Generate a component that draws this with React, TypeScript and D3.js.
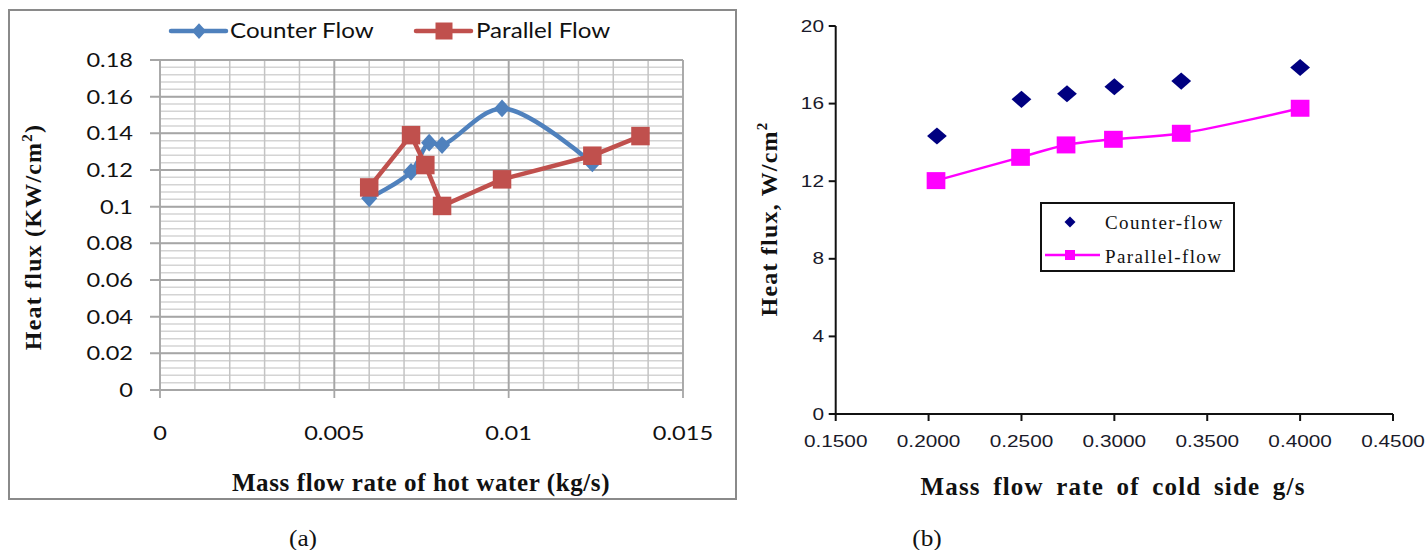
import React from "react";
import * as d3 from "d3";

// ---------- Panel (a) data ----------
const A_COUNTER_X = [0.006, 0.0072, 0.00772, 0.00809, 0.00981, 0.0124];
const A_COUNTER_Y = [0.1046, 0.119, 0.1349, 0.1336, 0.1536, 0.1236];
const A_PARALLEL_X = [0.006, 0.0072, 0.00761, 0.00809, 0.00981, 0.0124, 0.01378];
const A_PARALLEL_Y = [0.1105, 0.139, 0.1227, 0.1004, 0.1149, 0.1278, 0.1385];
const A_Y_TICKS = [0, 0.02, 0.04, 0.06, 0.08, 0.1, 0.12, 0.14, 0.16, 0.18];
const A_X_TICKS = [0, 0.005, 0.01, 0.015];
const A_SERIES = ["Counter Flow", "Parallel Flow"];

// ---------- Panel (b) data ----------
const B_COUNTER_X = [0.2045, 0.25, 0.2745, 0.3, 0.336, 0.4];
const B_COUNTER_Y = [14.33, 16.22, 16.51, 16.87, 17.16, 17.86];
const B_PARALLEL_X = [0.204, 0.2495, 0.274, 0.2995, 0.336, 0.4];
const B_PARALLEL_Y = [12.03, 13.23, 13.87, 14.16, 14.47, 15.76];
const B_Y_TICKS = [0, 4, 8, 12, 16, 20];
const B_X_TICKS = [0.15, 0.2, 0.25, 0.3, 0.35, 0.4, 0.45];
const B_SERIES = ["Counter-flow", "Parallel-flow"];

const BLUE = "#4F81BD";
const RED = "#C0504D";
const NAVY = "#000080";
const MAGENTA = "#FF00FF";

const SANS_A = "Lato, 'Open Sans', sans-serif";
const SANS_B = "'Liberation Sans', Arial, sans-serif";
const SERIF = "'Liberation Serif', 'Times New Roman', serif";

const diamondType = {
  draw(ctx: any, size: number) {
    const r = Math.sqrt(size / 2);
    ctx.moveTo(0, -r);
    ctx.lineTo(r, 0);
    ctx.lineTo(0, r);
    ctx.lineTo(-r, 0);
    ctx.closePath();
  },
};

function Txt(props: any) {
  const { x, y, sx = 1, rotate = 0, anchor = "middle", size, family, weight = "normal", fill = "#111", ls = 0, ws = 0, children } = props;
  return (
    <text
      transform={`translate(${x},${y}) rotate(${rotate}) scale(${sx},1)`}
      textAnchor={anchor}
      dy="0.35em"
      fontSize={size}
      fontFamily={family}
      fontWeight={weight}
      fill={fill}
      letterSpacing={ls}
      wordSpacing={ws}
    >
      {children}
    </text>
  );
}

function PanelA() {
  const x = d3.scaleLinear().domain([0, 0.015]).range([160, 683]);
  const y = d3.scaleLinear().domain([0, 0.18]).range([390, 60]);
  const minorX = x.ticks(15);
  const minorY = d3.range(0, 0.1801, 0.004);
  const counter = A_COUNTER_X.map((v, i) => [v, A_COUNTER_Y[i]] as [number, number]);
  const parallel = A_PARALLEL_X.map((v, i) => [v, A_PARALLEL_Y[i]] as [number, number]);
  const smooth = d3.line<[number, number]>().x(d => x(d[0])).y(d => y(d[1])).curve(d3.curveCatmullRom.alpha(0.5));
  const straight = d3.line<[number, number]>().x(d => x(d[0])).y(d => y(d[1]));
  const dia = d3.symbol().type(diamondType as any).size(2 * 8.5 * 8.5)();
  const sq = d3.symbol().type(d3.symbolSquare).size(18.5 * 18.5)();
  return (
    <g>
      <rect x={9} y={10} width={727} height={489} fill="#fff" stroke="#8a8a8a" strokeWidth={2} />
      {minorY.map((v, i) => (
        <line key={"mh" + i} x1={x(0)} x2={x(0.015)} y1={y(v)} y2={y(v)} stroke="#d4d4d4" strokeWidth={1.5} />
      ))}
      {minorX.map((v, i) => (
        <line key={"mv" + i} x1={x(v)} x2={x(v)} y1={y(0.18)} y2={y(0)} stroke="#c4c4c4" strokeWidth={1.5} />
      ))}
      {A_X_TICKS.map((v, i) => (
        <line key={"Mv" + i} x1={x(v)} x2={x(v)} y1={y(0.18)} y2={y(0) + 8} stroke="#a6a6a6" strokeWidth={1.8} />
      ))}
      {A_Y_TICKS.map((v, i) => (
        <line key={"Mh" + i} x1={x(0) - 10} x2={x(0.015)} y1={y(v)} y2={y(v)} stroke="#a6a6a6" strokeWidth={2} />
      ))}
      {A_Y_TICKS.map((v, i) => (
        <Txt key={"yl" + i} x={133} y={y(v)} anchor="end" size={20} sx={1.18} family={SANS_A}>{String(v)}</Txt>
      ))}
      {A_X_TICKS.map((v, i) => (
        <Txt key={"xl" + i} x={x(v)} y={433} size={20} sx={1.18} family={SANS_A}>{String(v)}</Txt>
      ))}
      <path d={smooth(counter) || ""} fill="none" stroke={BLUE} strokeWidth={4.5} strokeLinejoin="round" />
      <path d={straight(parallel) || ""} fill="none" stroke={RED} strokeWidth={4.5} strokeLinejoin="round" />
      {counter.map((d, i) => (
        <path key={"cd" + i} d={dia} transform={`translate(${x(d[0])},${y(d[1])}) scale(0.95,1.05)`} fill={BLUE} />
      ))}
      {parallel.map((d, i) => (
        <path key={"pd" + i} d={sq} transform={`translate(${x(d[0])},${y(d[1])})`} fill={RED} />
      ))}
      <line x1={171} x2={226} y1={31} y2={31} stroke={BLUE} strokeWidth={4.5} strokeLinecap="round" />
      <path d={d3.symbol().type(diamondType as any).size(2 * 7.5 * 7.5)() || ""} transform="translate(199,31) scale(0.95,1.05)" fill={BLUE} />
      <Txt x={230} y={31} anchor="start" size={21} sx={1.15} family={SANS_A}>{A_SERIES[0]}</Txt>
      <line x1={416} x2={471} y1={31} y2={31} stroke={RED} strokeWidth={4.5} strokeLinecap="round" />
      <path d={d3.symbol().type(d3.symbolSquare).size(17 * 17)() || ""} transform="translate(444,31)" fill={RED} />
      <Txt x={476} y={31} anchor="start" size={21} sx={1.15} family={SANS_A}>{A_SERIES[1]}</Txt>
      <text transform="translate(41,237) rotate(-90)" textAnchor="middle" fontFamily={SERIF} fontWeight="bold" fontSize={24} letterSpacing={1.2} fill="#111">
        Heat flux (KW/cm<tspan dy="-9" fontSize={15}>2</tspan><tspan dy="9">)</tspan>
      </text>
      <Txt x={421} y={482} size={25} family={SERIF} weight="bold" ls={0.6}>Mass flow rate of hot water (kg/s)</Txt>
      <Txt x={303} y={538} size={23} sx={1.1} family={SERIF}>(a)</Txt>
    </g>
  );
}

function PanelB() {
  const x = d3.scaleLinear().domain([0.15, 0.45]).range([835.7, 1393]);
  const y = d3.scaleLinear().domain([0, 20]).range([414, 26]);
  const parallel = B_PARALLEL_X.map((v, i) => [v, B_PARALLEL_Y[i]] as [number, number]);
  const counter = B_COUNTER_X.map((v, i) => [v, B_COUNTER_Y[i]] as [number, number]);
  const smooth = d3.line<[number, number]>().x(d => x(d[0])).y(d => y(d[1])).curve(d3.curveCatmullRom.alpha(0.5));
  const dia = d3.symbol().type(diamondType as any).size(2 * 9 * 9)();
  const sq = d3.symbol().type(d3.symbolSquare).size(17 * 17)();
  return (
    <g>
      <line x1={x(0.15)} x2={x(0.15)} y1={y(20)} y2={y(0)} stroke="#111" strokeWidth={2} />
      <line x1={x(0.15)} x2={x(0.45)} y1={y(0)} y2={y(0)} stroke="#111" strokeWidth={2} />
      {B_Y_TICKS.map((v, i) => (
        <g key={"by" + i}>
          <line x1={x(0.15) - 7} x2={x(0.15)} y1={y(v)} y2={y(v)} stroke="#111" strokeWidth={2} />
          <Txt x={824} y={y(v)} anchor="end" size={16} sx={1.3} family={SANS_B} fill="#1a1a2a">{String(v)}</Txt>
        </g>
      ))}
      {B_X_TICKS.map((v, i) => (
        <g key={"bx" + i}>
          <line x1={x(v)} x2={x(v)} y1={y(0)} y2={y(0) + 7} stroke="#111" strokeWidth={2} />
          <Txt x={x(v)} y={441} size={16} sx={1.3} family={SANS_B} fill="#1a1a2a">{v.toFixed(4)}</Txt>
        </g>
      ))}
      <path d={smooth(parallel) || ""} fill="none" stroke={MAGENTA} strokeWidth={2.5} />
      {parallel.map((d, i) => (
        <path key={"bp" + i} d={sq} transform={`translate(${x(d[0])},${y(d[1])}) scale(1.1,1)`} fill={MAGENTA} />
      ))}
      {counter.map((d, i) => (
        <path key={"bc" + i} d={dia} transform={`translate(${x(d[0])},${y(d[1])}) scale(1.1,0.95)`} fill={NAVY} />
      ))}
      <rect x={1041} y={203} width={193} height={68} fill="#fff" stroke="#111" strokeWidth={2} />
      <path d={d3.symbol().type(diamondType as any).size(2 * 5.5 * 5.5)() || ""} transform="translate(1070,222)" fill={NAVY} />
      <Txt x={1105} y={222} anchor="start" size={19} family={SERIF} ls={1.4}>{B_SERIES[0]}</Txt>
      <line x1={1045} x2={1100} y1={255} y2={255} stroke={MAGENTA} strokeWidth={2.5} />
      <path d={d3.symbol().type(d3.symbolSquare).size(10 * 10)() || ""} transform="translate(1070,255)" fill={MAGENTA} />
      <Txt x={1105} y={256} anchor="start" size={19} family={SERIF} ls={1.4}>{B_SERIES[1]}</Txt>
      <text transform="translate(777,219) rotate(-90)" textAnchor="middle" fontFamily={SERIF} fontWeight="bold" fontSize={24} letterSpacing={1.2} fill="#111">
        Heat flux, W/cm<tspan dy="-10" fontSize={15}>2</tspan>
      </text>
      <Txt x={1113} y={486} size={25} family={SERIF} weight="bold" ls={1.2} ws={5}>Mass flow rate of cold side g/s</Txt>
      <Txt x={927} y={538} size={23} sx={1.1} family={SERIF}>(b)</Txt>
    </g>
  );
}

export default function App() {
  return (
    <svg width={1428} height={550} viewBox="0 0 1428 550" style={{ position: "absolute", left: 0, top: 0, display: "block", background: "#fff" }}>
      <rect x={0} y={0} width={1428} height={550} fill="#fff" />
      <PanelA />
      <PanelB />
    </svg>
  );
}
